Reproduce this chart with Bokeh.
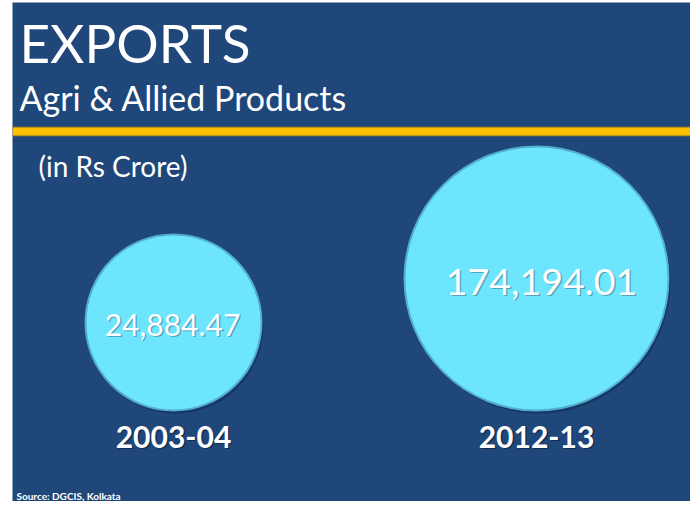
from bokeh.plotting import figure
from bokeh.models import Range1d
from bokeh.core.properties import value
from bokeh.embed import file_html
from bokeh.resources import INLINE

# ---- data ----
years = ["2003-04", "2012-13"]
exports = [24884.47, 174194.01]
title = "EXPORTS"
subtitle = "Agri & Allied Products"
unit_note = "(in Rs Crore)"
source = "Source: DGCIS, Kolkata"

# ---- layout / style (screen-like coordinates, y downwards) ----
BG = "#20477A"
CIRCLE = "#6CE5FD"
RIM = "#52AECB"
centers_x = [173, 536]
label_x = [172, 541]
radii = [88, 132]
base_y = 410  # circles are bottom-aligned
FONT = value("Lato")
BL = 0.4  # baseline correction factor (fraction of font size)

W, H = 690, 501
p = figure(width=W, height=H, output_backend="svg", toolbar_location=None,
           x_range=Range1d(12, 690), y_range=Range1d(501, 2),
           min_border_left=12, min_border_right=0, min_border_top=2, min_border_bottom=0,
           background_fill_color=BG, border_fill_color="white", outline_line_color=None)
p.xaxis.visible = False
p.yaxis.visible = False
p.xgrid.visible = False
p.ygrid.visible = False


def txt(x, base, t, size, bold=False, color="white", alpha=1.0, align="left"):
    p.text(x=x, y=[b - BL * size for b in base], text=t, text_font=FONT,
           text_font_size=value(f"{size}px"), text_font_style="bold" if bold else "normal",
           text_color=color, text_alpha=alpha, text_baseline="alphabetic", text_align=align)


# yellow rule
p.quad(left=[12], right=[690], top=[126], bottom=[136], fill_color="#6b6a3a", line_color=None)
p.quad(left=[12], right=[690], top=[127], bottom=[135], fill_color="#FFC000", line_color=None)

# titles
txt([19], [63], [title], 53)
txt([19], [111], [subtitle], 34)
txt([38], [177], [unit_note], 28)

# bubbles
cy = [base_y - r for r in radii]
p.circle(x=[c + 2 for c in centers_x], y=[c + 3 for c in cy], radius=radii,
         fill_color="#0c2446", fill_alpha=0.45, line_color=None)
p.circle(x=centers_x, y=cy, radius=radii, fill_color=CIRCLE, line_color=RIM, line_width=2)

labels = [f"{v:,.2f}" for v in exports]
sizes = [30, 37.5]
baselines = [336, 296]
for xc, b, lab, s in zip(label_x, baselines, labels, sizes):
    txt([xc + 1.5], [b + 1.5], [lab], s, color="#3a6f88", alpha=0.55, align="center")
    txt([xc], [b], [lab], s, align="center")

# year labels
txt([c + 1.5 for c in centers_x], [449.5] * 2, years, 30, bold=True, color="#0a1a33", alpha=0.6, align="center")
txt(centers_x, [448] * 2, years, 30, bold=True, align="center")

# source
txt([16], [499], [source], 10, bold=True)

open("out.html", "w").write(file_html(p, INLINE))
